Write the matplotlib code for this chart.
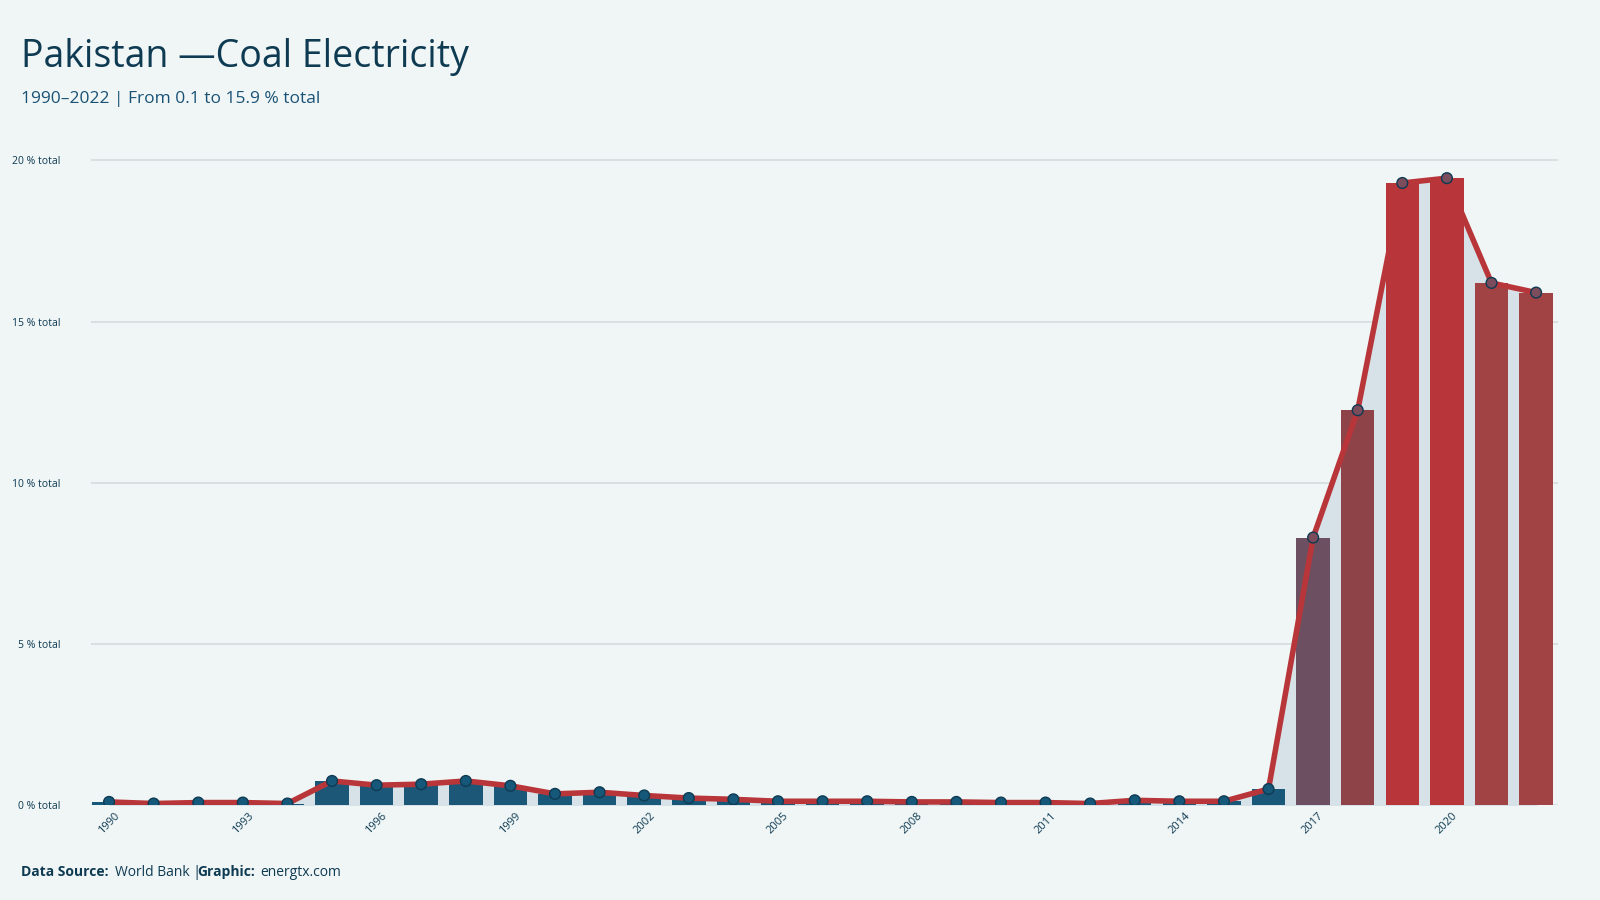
import numpy as np
import matplotlib.pyplot as plt
from matplotlib.colors import LinearSegmentedColormap

plt.rcParams['font.family'] = ['Open Sans', 'DejaVu Sans']

years = list(range(1990, 2023))
values = [0.1, 0.05, 0.08, 0.08, 0.05, 0.75, 0.62, 0.65, 0.75, 0.6,
          0.35, 0.4, 0.3, 0.22, 0.18, 0.12, 0.12, 0.12, 0.1, 0.1,
          0.08, 0.08, 0.05, 0.15, 0.12, 0.12, 0.5, 8.3, 12.25, 19.3,
          19.45, 16.2, 15.9]
yticks = [0, 5, 10, 15, 20]

bg = '#f0f6f6'
navy = '#0e3a52'
fig = plt.figure(figsize=(16, 9), dpi=100, facecolor=bg)
ax = fig.add_axes([0.057, 0.1054, 0.917, 0.745], facecolor=bg)

cmap = LinearSegmentedColormap.from_list(
    'c', [(0, '#15587a'), (0.55, '#744e5e'), (0.75, '#8f4348'), (1, '#b8363a')])
vals = np.array(values)
colors = cmap(np.clip(vals / 16.5, 0, 1))
colors[(vals > 15) & (vals < 17)] = np.array([0.63, 0.26, 0.27, 1])

ax.fill_between(years, values, color='#d6e2e7', zorder=1)
ax.bar(years, values, width=0.75, color=colors, zorder=2)
ax.plot(years, values, color='#b8363a', lw=4, zorder=3)
mcol = ['#15587a' if v < 1 else '#7a4c5c' for v in values]
ax.scatter(years, values, s=60, c=mcol, edgecolors='#0e3a52', linewidths=1, zorder=4)

ax.set_xlim(1989.6, 2022.5)
ax.set_ylim(0, 20.8)
ax.set_yticks(yticks)
ax.set_yticklabels([f'{t} % total' for t in yticks], fontsize=7.5, color=navy)
ax.grid(axis='y', color='#d5dcdd', lw=1.2)
ax.set_axisbelow(True)
ax.set_xticks(years[::3])
ax.set_xticklabels([str(y) for y in years[::3]], rotation=45, fontsize=8, color=navy)
ax.tick_params(length=0, pad=4)
ax.tick_params(axis='y', pad=22)
for s in ax.spines.values():
    s.set_visible(False)

fig.text(0.013, 0.925, 'Pakistan \u2014Coal Electricity', fontsize=27, color=navy)
fig.text(0.013, 0.886, '1990\u20132022 | From 0.1 to 15.9 % total', fontsize=12.5, color='#1a5276')
fig.text(0.013, 0.027, 'Data Source:', fontsize=10, color=navy, fontweight='bold')
fig.text(0.072, 0.027, 'World Bank |', fontsize=10, color=navy)
fig.text(0.1235, 0.027, 'Graphic:', fontsize=10, color=navy, fontweight='bold')
fig.text(0.1625, 0.027, 'energtx.com', fontsize=10, color=navy)

fig.savefig('out.png', facecolor=bg)
